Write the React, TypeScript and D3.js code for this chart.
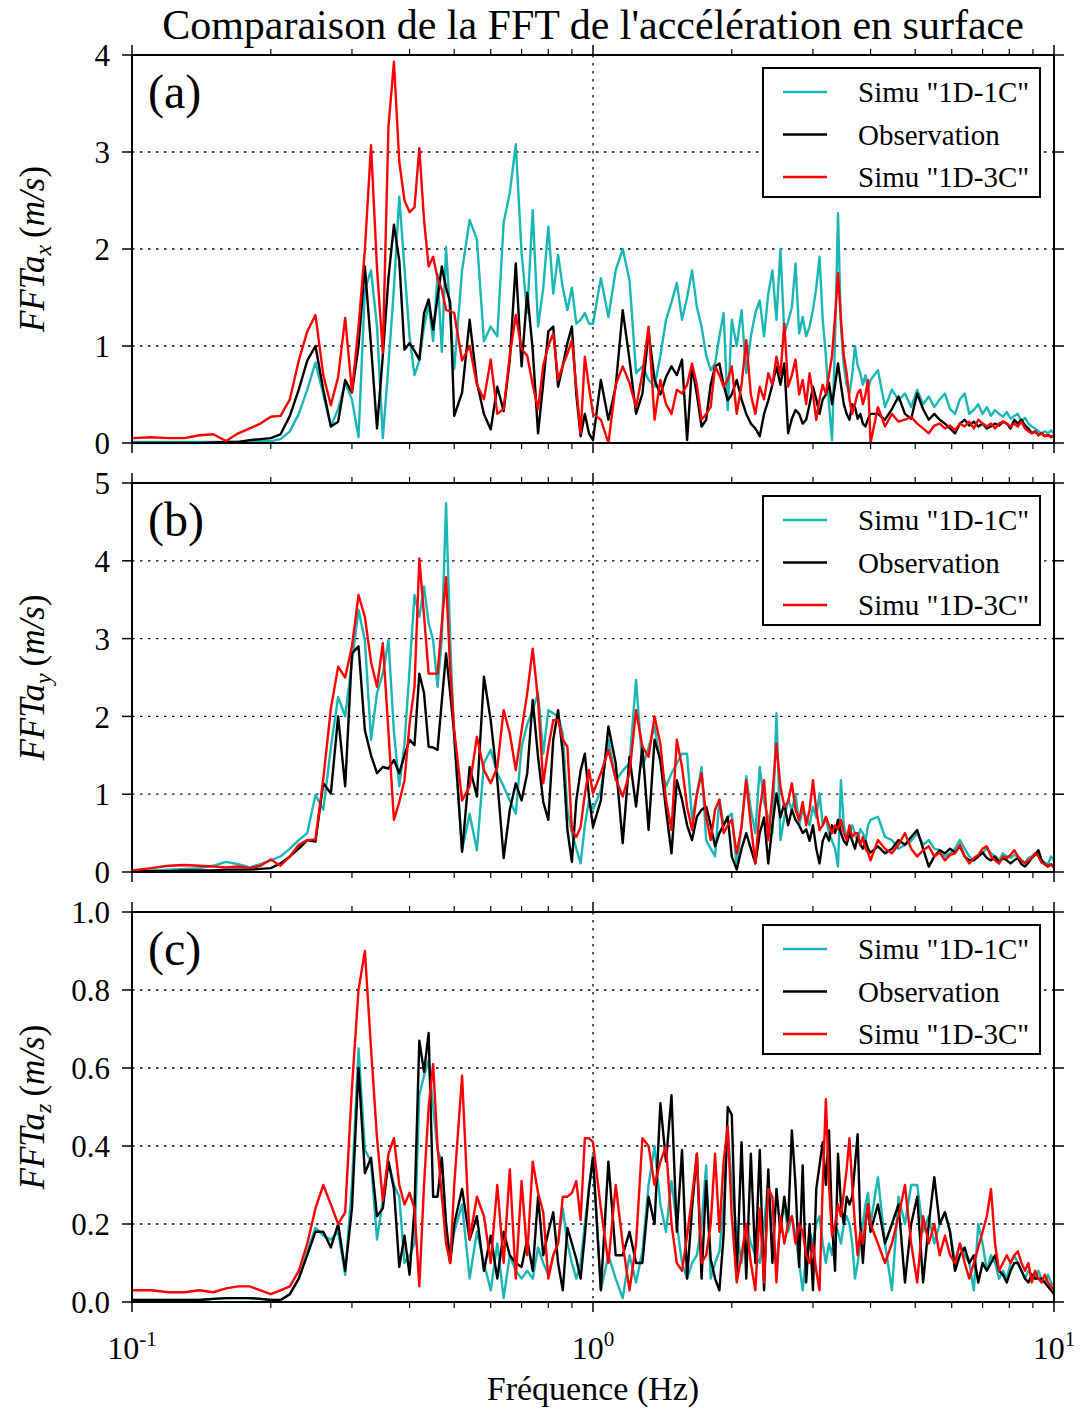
import React from 'react';
import * as d3 from 'd3';

// Frequency bins (Hz): [start, stop, step]
const FREQ_SEGMENTS: number[][] = [
  [0.10, 0.50, 0.01],
  [0.52, 1.00, 0.02],
  [1.04, 2.00, 0.04],
  [2.05, 4.00, 0.05],
  [4.15, 10.0, 0.15],
];
const FREQS: number[] = FREQ_SEGMENTS.flatMap(([a, b, s]) => {
  const n = Math.round((b - a) / s) + 1;
  return d3.range(n).map((i) => +(a + i * s).toFixed(3));
});

const SERIES_NAMES = ['Simu "1D-1C"', 'Observation', 'Simu "1D-3C"'];
const SERIES_COLORS = ['#1ab6b6', '#000000', '#ff0000'];

// ---------- Panel (a) FFT a_x ----------
const FFT_A_1C = [
  0.01, 0.01, 0.01, 0.01, 0.01, 0.01, 0.01, 0.01, 0.01, 0.02,
  0.02, 0.04, 0.12, 0.30, 0.55, 0.83, 0.50, 0.17, 0.35, 0.62,
  0.45, 0.06, 1.58, 1.78, 1.20, 0.05, 0.80, 1.60, 2.54, 1.80,
  1.10, 0.70, 0.85, 1.20, 1.43, 1.05, 1.74, 0.94, 2.02, 1.30,
  0.76,
  1.78, 2.30, 2.10, 1.05, 1.20, 1.10, 2.27, 2.58, 3.08, 1.96, 1.34, 2.40, 1.20, 1.60, 2.23, 1.54, 1.94, 1.60, 1.37, 1.60, 1.23, 1.27, 1.34, 1.23, 1.23,
  1.70, 1.30, 1.78, 2.00, 1.68, 0.72, 0.79, 0.65, 0.58, 0.90, 1.27, 1.45, 1.65, 1.27, 1.50, 1.78, 1.40, 1.20, 0.90, 0.75, 0.82, 1.10, 1.34, 0.34, 1.27,
  1.00, 1.37, 0.72, 1.10, 1.34, 1.47, 1.10, 1.54, 1.78, 1.27,
  2.00, 1.13, 1.25, 1.40, 1.85, 1.13, 1.30, 1.10, 1.20, 1.37,
  1.60, 1.92, 1.27, 0.90, 0.40, 0.03, 1.06, 2.37, 1.20, 0.79,
  0.60, 0.51, 0.70, 1.00, 0.80, 0.72, 0.60, 0.70, 0.55, 0.65,
  0.75, 0.37, 0.55, 0.44, 0.51, 0.37, 0.55, 0.40, 0.48, 0.37,
  0.45, 0.51, 0.35, 0.30, 0.45, 0.51, 0.30, 0.34, 0.40, 0.30,
  0.37, 0.28, 0.34, 0.30, 0.27, 0.32, 0.25, 0.28, 0.30, 0.22,
  0.26, 0.20, 0.17, 0.15, 0.12, 0.10, 0.12, 0.10, 0.13, 0.10,
];
const FFT_A_OBS = [
  0.00, 0.00, 0.00, 0.00, 0.00, 0.005, 0.01, 0.01, 0.03, 0.04,
  0.05, 0.09, 0.28, 0.55, 0.85, 1.00, 0.55, 0.17, 0.22, 0.65,
  0.52, 1.00, 1.82, 1.00, 0.15, 0.90, 1.70, 2.25, 1.88, 0.96,
  1.03, 0.95, 0.86, 1.34, 1.48, 1.17, 1.50, 1.82, 1.60, 1.45,
  0.28,
  0.52, 1.27, 0.62, 0.30, 0.14, 0.58, 0.33, 0.86, 1.85, 0.79, 1.55, 0.96, 0.10, 0.62, 1.15, 1.20, 0.58, 0.80, 1.03, 1.20, 0.50, 0.07, 0.30, 0.10, 0.03,
  0.65, 0.24, 0.58, 1.37, 0.86, 0.30, 0.51, 1.15, 0.65, 0.50, 0.68, 0.79, 0.70, 0.86, 0.03, 0.79, 0.50, 0.17, 0.24, 0.60, 0.79, 0.82, 0.60, 0.44, 0.50,
  0.65, 0.45, 0.30, 0.20, 0.15, 0.07, 0.30, 0.44, 0.60, 0.79,
  0.60, 0.82, 0.10, 0.25, 0.34, 0.30, 0.20, 0.24, 0.40, 0.58,
  0.45, 0.30, 0.45, 0.50, 0.62, 0.40, 0.60, 0.82, 0.60, 0.40,
  0.30, 0.24, 0.40, 0.37, 0.25, 0.30, 0.20, 0.17, 0.25, 0.30,
  0.30, 0.24, 0.35, 0.48, 0.30, 0.25, 0.51, 0.35, 0.24, 0.30,
  0.24, 0.20, 0.15, 0.10, 0.20, 0.24, 0.18, 0.22, 0.17, 0.20,
  0.15, 0.17, 0.20, 0.18, 0.22, 0.20, 0.15, 0.24, 0.20, 0.24,
  0.18, 0.15, 0.10, 0.12, 0.08, 0.10, 0.07, 0.08, 0.07, 0.07,
];
const FFT_A_3C = [
  0.05, 0.06, 0.05, 0.05, 0.08, 0.09, 0.02, 0.10, 0.15, 0.20,
  0.27, 0.28, 0.45, 0.85, 1.15, 1.32, 0.70, 0.39, 0.68, 1.29,
  0.53, 1.20, 1.99, 3.07, 1.80, 0.93, 3.26, 3.93, 2.90, 2.50,
  2.38, 2.43, 3.04, 2.30, 1.82, 1.92, 1.70, 1.58, 1.37, 1.36,
  1.34,
  0.85, 1.00, 0.60, 0.45, 0.86, 0.30, 0.35, 0.90, 1.32, 0.97, 0.90, 0.60, 0.35, 0.80, 1.00, 1.13, 0.65, 0.80, 0.92, 1.06, 0.58, 0.10, 0.89, 0.58, 0.30,
  0.24, 0.00, 0.60, 0.79, 0.62, 0.37, 0.72, 1.20, 0.24, 0.65, 0.40, 0.30, 0.55, 0.51, 0.60, 0.82, 0.60, 0.24, 0.30, 0.37, 0.79, 0.70, 0.58, 0.65, 0.79,
  0.30, 0.60, 1.06, 0.50, 0.30, 0.58, 0.45, 0.72, 0.60, 0.89,
  0.70, 1.23, 0.58, 0.70, 0.86, 0.50, 0.65, 0.40, 0.72, 0.50,
  0.24, 0.45, 0.60, 0.51, 0.70, 0.90, 1.30, 1.75, 1.27, 0.90,
  0.72, 0.45, 0.30, 0.40, 0.51, 0.55, 0.40, 0.50, 0.65, 0.00,
  0.37, 0.17, 0.30, 0.22, 0.24, 0.27, 0.20, 0.15, 0.10, 0.18,
  0.20, 0.15, 0.18, 0.13, 0.20, 0.17, 0.22, 0.15, 0.24, 0.20,
  0.17, 0.20, 0.15, 0.20, 0.22, 0.20, 0.17, 0.20, 0.17, 0.22,
  0.15, 0.12, 0.10, 0.12, 0.08, 0.10, 0.07, 0.08, 0.06, 0.08,
];

// ---------- Panel (b) FFT a_y ----------
const FFT_B_1C = [
  0.01, 0.02, 0.03, 0.04, 0.05, 0.08, 0.13, 0.10, 0.06, 0.10,
  0.15, 0.20, 0.30, 0.41, 0.50, 0.99, 0.80, 1.60, 2.25, 2.00,
  2.70, 3.37, 2.98, 1.70, 2.30, 2.55, 2.98, 1.80, 1.10, 1.65,
  2.60, 3.56, 3.28, 3.67, 3.20, 2.98, 2.38, 3.00, 4.74, 3.00,
  1.70,
  0.28, 0.75, 0.28, 1.40, 1.57, 1.27, 1.10, 0.92, 0.75, 1.61, 1.90, 2.08, 2.30, 1.52, 2.08, 2.04, 2.00, 1.78, 0.80, 0.50, 0.30, 0.11, 0.60, 0.92, 0.80,
  1.05, 1.70, 1.18, 1.30, 1.40, 2.47, 1.35, 1.60, 1.87, 1.40, 1.10, 1.27, 1.40, 1.52, 1.52, 0.67, 1.00, 1.35, 0.41, 0.30, 0.20, 0.93, 0.60, 0.70, 0.75,
  0.07, 0.60, 1.23, 0.80, 0.50, 1.35, 0.90, 0.70, 0.50, 2.04,
  0.41, 0.70, 0.93, 0.80, 1.00, 0.60, 0.80, 0.70, 0.60, 0.84,
  0.70, 1.01, 0.60, 0.70, 0.50, 0.40, 0.30, 0.07, 1.18, 0.60,
  0.45, 0.50, 0.60, 0.50, 0.40, 0.55, 0.50, 0.40, 0.60, 0.67,
  0.71, 0.45, 0.41, 0.30, 0.35, 0.40, 0.50, 0.35, 0.41, 0.30,
  0.28, 0.20, 0.24, 0.30, 0.41, 0.30, 0.20, 0.15, 0.20, 0.25,
  0.30, 0.24, 0.20, 0.15, 0.24, 0.20, 0.18, 0.22, 0.20, 0.15,
  0.12, 0.18, 0.20, 0.24, 0.22, 0.15, 0.12, 0.10, 0.20, 0.15,
];
const FFT_B_OBS = [
  0.01, 0.01, 0.01, 0.02, 0.02, 0.02, 0.03, 0.03, 0.03, 0.04,
  0.05, 0.11, 0.20, 0.30, 0.41, 0.39, 1.14, 1.01, 2.00, 1.10,
  2.81, 2.90, 1.82, 1.50, 1.27, 1.35, 1.33, 1.44, 1.27, 1.50,
  1.70, 1.63, 2.55, 2.30, 1.61, 1.60, 1.57, 2.20, 2.81, 2.30,
  1.78,
  0.26, 1.35, 0.97, 2.51, 1.95, 1.18, 0.18, 0.80, 1.14, 0.92, 1.27, 2.21, 1.48, 0.90, 0.67, 1.70, 2.08, 1.52, 0.54, 0.13, 0.92, 1.30, 1.52, 0.97, 0.58,
  0.92, 1.87, 1.40, 0.37, 1.48, 0.84, 1.61, 0.54, 1.70, 1.44, 0.80, 0.24, 1.18, 0.93, 0.60, 0.41, 0.71, 0.80, 0.84, 0.60, 0.33, 0.50, 0.60, 0.71, 0.20,
  0.03, 0.30, 0.50, 0.30, 0.11, 0.50, 0.70, 0.11, 0.60, 1.01,
  0.70, 0.88, 0.60, 0.80, 0.67, 0.60, 0.50, 0.55, 0.40, 0.60,
  0.30, 0.11, 0.40, 0.50, 0.40, 0.60, 0.50, 0.67, 0.50, 0.40,
  0.35, 0.50, 0.40, 0.30, 0.45, 0.35, 0.30, 0.40, 0.30, 0.25,
  0.33, 0.24, 0.30, 0.41, 0.35, 0.45, 0.54, 0.30, 0.07, 0.20,
  0.28, 0.24, 0.30, 0.25, 0.33, 0.20, 0.15, 0.15, 0.20, 0.25,
  0.18, 0.15, 0.20, 0.12, 0.18, 0.15, 0.11, 0.15, 0.18, 0.10,
  0.07, 0.12, 0.18, 0.22, 0.28, 0.15, 0.10, 0.07, 0.10, 0.06,
];
const FFT_B_3C = [
  0.02, 0.05, 0.08, 0.09, 0.08, 0.07, 0.06, 0.07, 0.05, 0.08,
  0.16, 0.08, 0.20, 0.35, 0.41, 0.42, 1.20, 2.10, 2.64, 2.50,
  2.90, 3.56, 3.28, 2.70, 2.38, 2.94, 1.80, 0.67, 0.90, 1.18,
  1.90, 2.38, 4.03, 3.30, 2.55, 2.55, 2.55, 3.20, 3.79, 2.60,
  1.82,
  0.92, 1.10, 1.74, 1.31, 1.14, 1.35, 2.08, 1.78, 1.31, 1.82, 2.30, 2.87, 2.21, 1.14, 1.60, 1.95, 1.95, 1.70, 1.61, 0.54, 0.45, 0.58, 1.00, 1.31, 1.01,
  1.27, 1.57, 1.20, 0.97, 1.27, 2.08, 1.61, 1.48, 2.00, 1.65, 0.93, 0.54, 1.70, 1.35, 0.84, 0.54, 1.00, 1.27, 0.71, 0.41, 0.80, 0.93, 0.50, 0.60, 0.67,
  0.24, 0.58, 1.18, 0.60, 0.11, 0.80, 1.18, 0.41, 1.00, 1.65,
  1.10, 0.84, 0.90, 1.14, 0.80, 0.67, 0.90, 0.60, 0.80, 1.18,
  0.80, 0.54, 0.60, 0.71, 0.60, 0.50, 0.60, 0.55, 0.67, 0.50,
  0.41, 0.60, 0.45, 0.50, 0.50, 0.35, 0.45, 0.30, 0.25, 0.15,
  0.41, 0.30, 0.24, 0.35, 0.50, 0.30, 0.20, 0.28, 0.33, 0.20,
  0.25, 0.15, 0.22, 0.24, 0.35, 0.20, 0.11, 0.18, 0.22, 0.30,
  0.33, 0.20, 0.15, 0.11, 0.20, 0.18, 0.22, 0.28, 0.20, 0.15,
  0.11, 0.15, 0.18, 0.24, 0.20, 0.12, 0.10, 0.08, 0.10, 0.07,
];

// ---------- Panel (c) FFT a_z ----------
const FFT_C_1C = [
  0.005, 0.005, 0.005, 0.005, 0.005, 0.008, 0.01, 0.01, 0.01, 0.008,
  0.005, 0.005, 0.02, 0.06, 0.13, 0.19, 0.17, 0.16, 0.18, 0.07,
  0.30, 0.65, 0.39, 0.36, 0.16, 0.26, 0.36, 0.30, 0.27, 0.10,
  0.12, 0.15, 0.53, 0.58, 0.62, 0.50, 0.39, 0.36, 0.20, 0.11,
  0.18,
  0.25, 0.06, 0.18, 0.10, 0.03, 0.15, 0.01, 0.12, 0.08, 0.06, 0.08, 0.06, 0.14, 0.10, 0.07, 0.12, 0.15, 0.24, 0.15, 0.10, 0.06, 0.10, 0.20, 0.29, 0.38,
  0.03, 0.12, 0.06, 0.01, 0.12, 0.05, 0.13, 0.30, 0.40, 0.25, 0.18, 0.31, 0.20, 0.10, 0.06, 0.10, 0.12, 0.20, 0.35, 0.06, 0.10, 0.13, 0.25, 0.44, 0.30,
  0.18, 0.10, 0.20, 0.15, 0.12, 0.10, 0.20, 0.31, 0.15, 0.10,
  0.20, 0.25, 0.18, 0.22, 0.17, 0.10, 0.03, 0.12, 0.18, 0.15,
  0.20, 0.22, 0.15, 0.10, 0.15, 0.12, 0.20, 0.18, 0.15, 0.20,
  0.22, 0.20, 0.15, 0.06, 0.10, 0.15, 0.20, 0.25, 0.28, 0.20,
  0.32, 0.15, 0.03, 0.27, 0.20, 0.30, 0.30, 0.18, 0.22, 0.15,
  0.20, 0.23, 0.18, 0.10, 0.15, 0.12, 0.10, 0.03, 0.20, 0.15,
  0.08, 0.12, 0.10, 0.06, 0.08, 0.06, 0.10, 0.12, 0.10, 0.08,
  0.06, 0.08, 0.07, 0.06, 0.08, 0.06, 0.05, 0.07, 0.05, 0.04,
];
const FFT_C_OBS = [
  0.005, 0.005, 0.005, 0.005, 0.005, 0.008, 0.01, 0.01, 0.01, 0.008,
  0.005, 0.005, 0.02, 0.06, 0.12, 0.18, 0.18, 0.14, 0.20, 0.08,
  0.24, 0.60, 0.33, 0.37, 0.22, 0.24, 0.36, 0.29, 0.09, 0.17,
  0.07, 0.24, 0.67, 0.59, 0.69, 0.27, 0.27, 0.37, 0.20, 0.10,
  0.20,
  0.29, 0.16, 0.22, 0.08, 0.17, 0.06, 0.18, 0.12, 0.10, 0.09, 0.16, 0.08, 0.27, 0.12, 0.18, 0.23, 0.10, 0.03, 0.19, 0.15, 0.11, 0.06, 0.17, 0.29, 0.37,
  0.03, 0.36, 0.12, 0.12, 0.18, 0.10, 0.10, 0.27, 0.20, 0.51, 0.36, 0.53, 0.18, 0.39, 0.06, 0.24, 0.38, 0.06, 0.31, 0.11, 0.06, 0.03, 0.17, 0.50, 0.48,
  0.06, 0.41, 0.06, 0.38, 0.10, 0.39, 0.03, 0.34, 0.10, 0.29,
  0.18, 0.27, 0.20, 0.44, 0.30, 0.09, 0.35, 0.05, 0.20, 0.03,
  0.29, 0.35, 0.41, 0.30, 0.44, 0.20, 0.08, 0.38, 0.25, 0.20,
  0.27, 0.25, 0.27, 0.35, 0.43, 0.20, 0.10, 0.20, 0.25, 0.18,
  0.25, 0.15, 0.20, 0.25, 0.05, 0.20, 0.27, 0.05, 0.20, 0.32,
  0.20, 0.23, 0.18, 0.08, 0.12, 0.14, 0.10, 0.12, 0.05, 0.10,
  0.08, 0.10, 0.12, 0.08, 0.07, 0.05, 0.08, 0.10, 0.10, 0.08,
  0.06, 0.05, 0.07, 0.06, 0.06, 0.06, 0.05, 0.04, 0.03, 0.02,
];
const FFT_C_3C = [
  0.03, 0.03, 0.025, 0.025, 0.03, 0.025, 0.035, 0.04, 0.04, 0.03,
  0.02, 0.03, 0.04, 0.08, 0.15, 0.24, 0.30, 0.25, 0.20, 0.23,
  0.55, 0.80, 0.90, 0.65, 0.42, 0.26, 0.38, 0.42, 0.30, 0.25,
  0.28, 0.24, 0.04, 0.30, 0.50, 0.61, 0.40, 0.27, 0.15, 0.10,
  0.30,
  0.58, 0.16, 0.27, 0.22, 0.10, 0.30, 0.10, 0.34, 0.06, 0.31, 0.12, 0.36, 0.28, 0.23, 0.06, 0.12, 0.15, 0.27, 0.27, 0.28, 0.31, 0.21, 0.42, 0.42, 0.41,
  0.24, 0.10, 0.30, 0.15, 0.03, 0.15, 0.42, 0.40, 0.30, 0.36, 0.40, 0.20, 0.10, 0.08, 0.17, 0.27, 0.38, 0.10, 0.12, 0.20, 0.38, 0.18, 0.36, 0.45, 0.22,
  0.05, 0.12, 0.20, 0.10, 0.03, 0.24, 0.05, 0.29, 0.27, 0.05,
  0.22, 0.15, 0.20, 0.22, 0.15, 0.20, 0.18, 0.12, 0.10, 0.15,
  0.08, 0.03, 0.30, 0.52, 0.30, 0.17, 0.20, 0.25, 0.22, 0.28,
  0.34, 0.42, 0.30, 0.20, 0.12, 0.18, 0.15, 0.20, 0.25, 0.20,
  0.15, 0.10, 0.15, 0.22, 0.30, 0.15, 0.05, 0.22, 0.15, 0.20,
  0.12, 0.17, 0.12, 0.10, 0.15, 0.10, 0.06, 0.10, 0.14, 0.18,
  0.22, 0.29, 0.15, 0.08, 0.10, 0.12, 0.10, 0.12, 0.13, 0.10,
  0.08, 0.10, 0.05, 0.08, 0.06, 0.05, 0.07, 0.05, 0.04, 0.03,
];

const X_MAJOR = [0.1, 1, 10];
const X_MAJOR_EXP = ['-1', '0', '1'];
const X_MINOR = [0.2, 0.3, 0.4, 0.5, 0.6, 0.7, 0.8, 0.9, 2, 3, 4, 5, 6, 7, 8, 9];

const Y_TICKS_A = [0, 1, 2, 3, 4];
const Y_TICKS_B = [0, 1, 2, 3, 4, 5];
const Y_TICKS_C = [0, 0.2, 0.4, 0.6, 0.8, 1.0];

const PANEL_LABELS = ['(a)', '(b)', '(c)'];
const Y_SUBS = ['x', 'y', 'z'];

const TITLE = "Comparaison de la FFT de l'accélération en surface";
const X_TITLE = 'Fréquence (Hz)';

const FONT = "'Liberation Serif', 'Times New Roman', Times, serif";
const LEFT = 132;
const RIGHT = 1054;

const PANELS = [
  { top: 55, bottom: 443, ticks: Y_TICKS_A, fmt: (d: number) => String(d), series: [FFT_A_1C, FFT_A_OBS, FFT_A_3C] },
  { top: 483, bottom: 872, ticks: Y_TICKS_B, fmt: (d: number) => String(d), series: [FFT_B_1C, FFT_B_OBS, FFT_B_3C] },
  { top: 912, bottom: 1302, ticks: Y_TICKS_C, fmt: d3.format('.1f'), series: [FFT_C_1C, FFT_C_OBS, FFT_C_3C] },
];

export default function App() {
  const x = d3.scaleLog().domain([0.1, 10]).range([LEFT, RIGHT]);

  return (
    <svg
      width={1080}
      height={1412}
      style={{ position: 'absolute', left: 0, top: 0, background: '#fff' }}
      fontFamily={FONT}
    >
      <rect x={0} y={0} width={1080} height={1412} fill="#fff" />
      <text x={593} y={39} textAnchor="middle" fontSize={42}>{TITLE}</text>

      {PANELS.map((p, pi) => {
        const yMax = p.ticks[p.ticks.length - 1];
        const y = d3.scaleLinear().domain([0, yMax]).range([p.bottom, p.top]);
        const line = d3
          .line<number>()
          .x((_, i) => x(FREQS[i]))
          .y((v) => y(v));
        const clipId = `clip-${pi}`;
        const midY = (p.top + p.bottom) / 2;
        return (
          <g key={pi}>
            <defs>
              <clipPath id={clipId}>
                <rect x={LEFT} y={p.top} width={RIGHT - LEFT} height={p.bottom - p.top} />
              </clipPath>
            </defs>
            {/* grid */}
            {p.ticks.slice(1, -1).map((t) => (
              <line key={`g${t}`} x1={LEFT} x2={RIGHT} y1={y(t)} y2={y(t)} stroke="#000" strokeWidth={1.3} strokeDasharray="2.5,5.5" />
            ))}
            <line x1={x(1)} x2={x(1)} y1={p.top} y2={p.bottom} stroke="#000" strokeWidth={1.3} strokeDasharray="2.5,5.5" />

            {/* data */}
            <g clipPath={`url(#${clipId})`}>
              {p.series.map((s, si) => (
                <path
                  key={si}
                  d={line(s.slice(0, FREQS.length)) || ''}
                  fill="none"
                  stroke={SERIES_COLORS[si]}
                  strokeWidth={2.4}
                  strokeLinejoin="round"
                />
              ))}
            </g>

            {/* frame */}
            <rect x={LEFT} y={p.top} width={RIGHT - LEFT} height={p.bottom - p.top} fill="none" stroke="#000" strokeWidth={2} />

            {/* y ticks */}
            {p.ticks.map((t) => (
              <g key={`yt${t}`}>
                <line x1={LEFT - 10} x2={LEFT} y1={y(t)} y2={y(t)} stroke="#000" strokeWidth={1.5} />
                <line x1={RIGHT} x2={RIGHT + 10} y1={y(t)} y2={y(t)} stroke="#000" strokeWidth={1.5} />
                <text x={110} y={y(t)} dy="0.36em" textAnchor="end" fontSize={31}>{p.fmt(t)}</text>
              </g>
            ))}

            {/* x ticks */}
            {X_MAJOR.map((t) => (
              <g key={`xM${t}`}>
                <line x1={x(t)} x2={x(t)} y1={p.bottom} y2={p.bottom + 10} stroke="#000" strokeWidth={1.5} />
                <line x1={x(t)} x2={x(t)} y1={p.top - 10} y2={p.top} stroke="#000" strokeWidth={1.5} />
              </g>
            ))}
            {X_MINOR.map((t) => (
              <g key={`xm${t}`}>
                <line x1={x(t)} x2={x(t)} y1={p.bottom} y2={p.bottom + 6} stroke="#000" strokeWidth={1.2} />
                <line x1={x(t)} x2={x(t)} y1={p.top - 6} y2={p.top} stroke="#000" strokeWidth={1.2} />
              </g>
            ))}

            {/* panel label */}
            <text x={148} y={p.top + 53} fontSize={48}>{PANEL_LABELS[pi]}</text>

            {/* y axis label */}
            <text
              transform={`translate(44,${midY}) rotate(-90)`}
              textAnchor="middle"
              fontSize={35}
            >
              <tspan fontStyle="italic">FFTa</tspan>
              <tspan fontStyle="italic" fontSize={24} dy={7}>{Y_SUBS[pi]}</tspan>
              <tspan dy={-7}>{'\u2009('}</tspan>
              <tspan fontStyle="italic">m/s</tspan>
              <tspan>)</tspan>
            </text>

            {/* legend */}
            <g>
              <rect x={763} y={p.top + 13} width={277} height={129} fill="#fff" stroke="#000" strokeWidth={2} />
              {SERIES_NAMES.map((name, si) => {
                const ry = p.top + 37 + si * 42.5;
                return (
                  <g key={name}>
                    <line x1={783} x2={827} y1={ry} y2={ry} stroke={SERIES_COLORS[si]} strokeWidth={2.4} />
                    <text x={858} y={ry} dy="0.35em" fontSize={29}>{name}</text>
                  </g>
                );
              })}
            </g>
          </g>
        );
      })}

      {/* x tick labels */}
      {X_MAJOR.map((t, i) => (
        <text key={`xl${t}`} x={x(t)} y={1359} textAnchor="middle" fontSize={32}>
          <tspan>10</tspan>
          <tspan fontSize={21} dy={-13}>{X_MAJOR_EXP[i]}</tspan>
        </text>
      ))}

      <text x={593} y={1400} textAnchor="middle" fontSize={34}>{X_TITLE}</text>
    </svg>
  );
}
